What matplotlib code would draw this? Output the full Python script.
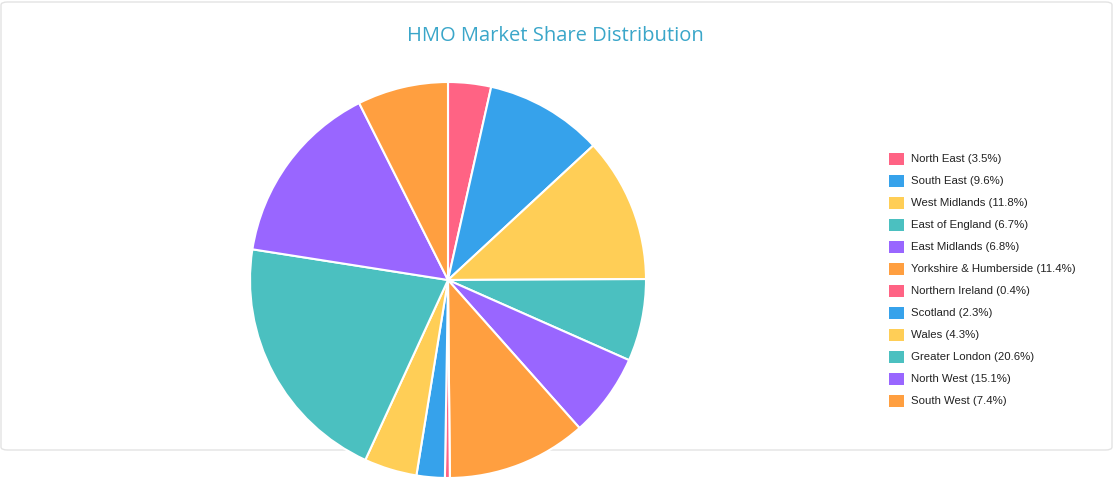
import matplotlib
matplotlib.use("Agg")
import matplotlib.pyplot as plt
from matplotlib.patches import FancyBboxPatch, Rectangle

labels = ["North East", "South East", "West Midlands", "East of England", "East Midlands",
          "Yorkshire & Humberside", "Northern Ireland", "Scotland", "Wales",
          "Greater London", "North West", "South West"]
values = [3.5, 9.6, 11.8, 6.7, 6.8, 11.4, 0.4, 2.3, 4.3, 20.6, 15.1, 7.4]
palette = ["#FF6384", "#36A2EB", "#FFCE56", "#4BC0C0", "#9966FF", "#FF9F40"]
colors = [palette[i % 6] for i in range(len(values))]

W, H = 1115, 491
fig = plt.figure(figsize=(W/100, H/100), dpi=100)
card = FancyBboxPatch((1/W, (H-450)/H), 1111/W, 448/H,
                      boxstyle="round,pad=0,rounding_size=0.006",
                      transform=fig.transFigure, facecolor="white",
                      edgecolor="#e3e3e3", linewidth=1, zorder=-10)
fig.patches.append(card)
fig.text(555/W, 1-36/H, "HMO Market Share Distribution", ha="center", va="center",
         fontsize=14.5, color="#3aa6c9", family="Open Sans")

cx, cy, r = 448, 280, 198
ax = fig.add_axes([(cx-r)/W, (H-cy-r)/H, 2*r/W, 2*r/H], zorder=5)
ax.patch.set_alpha(0)
ax.pie(values, colors=colors, startangle=90, counterclock=False,
       wedgeprops=dict(edgecolor="white", linewidth=1.5))
ax.set_aspect("equal")
ax.set_xlim(-1, 1); ax.set_ylim(-1, 1)
ax.axis("off")

for i, (lab, v) in enumerate(zip(labels, values)):
    y = 159 + i*22.0
    fig.patches.append(Rectangle((889/W, 1-(y+6)/H), 15/W, 12/H, transform=fig.transFigure,
                                 facecolor=colors[i], edgecolor="none"))
    fig.text(911/W, 1-y/H, f"{lab} ({v}%)", ha="left", va="center", fontsize=8.2,
             color="#222222", family="Liberation Sans")

fig.savefig("out.png", dpi=100)
